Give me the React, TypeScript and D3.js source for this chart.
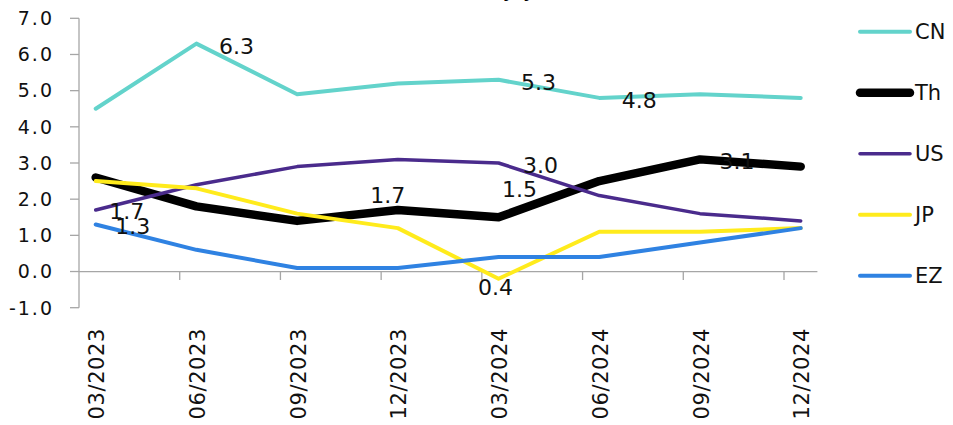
import { useEffect, useRef } from "react";
import * as d3 from "d3";

const W = 953;
const H = 425;

const quarters = ["03/2023", "06/2023", "09/2023", "12/2023", "03/2024", "06/2024", "09/2024", "12/2024"];
const seriesNames = ["CN", "Th", "US", "JP", "EZ"];
const cnValues = [4.5, 6.3, 4.9, 5.2, 5.3, 4.8, 4.9, 4.8];
const thValues = [2.6, 1.8, 1.4, 1.7, 1.5, 2.5, 3.1, 2.9];
const usValues = [1.7, 2.4, 2.9, 3.1, 3.0, 2.1, 1.6, 1.4];
const jpValues = [2.5, 2.3, 1.6, 1.2, -0.2, 1.1, 1.1, 1.2];
const ezValues = [1.3, 0.6, 0.1, 0.1, 0.4, 0.4, 0.8, 1.2];
const yTicks = [-1, 0, 1, 2, 3, 4, 5, 6, 7];

// data labels as they sit in the source chart (series, quarter index)
const dataLabels: { series: string; index: number; dx: number; dy: number }[] = [
  { series: "US", index: 0, dx: 31, dy: 1 },
  { series: "EZ", index: 0, dx: 37, dy: 2 },
  { series: "CN", index: 1, dx: 40, dy: 2 },
  { series: "Th", index: 3, dx: -10, dy: -15 },
  { series: "CN", index: 4, dx: 40, dy: 2 },
  { series: "CN", index: 5, dx: 40, dy: 2 },
  { series: "US", index: 4, dx: 42, dy: 2 },
  { series: "Th", index: 4, dx: 21, dy: -28 },
  { series: "EZ", index: 4, dx: -3, dy: 30 },
  { series: "Th", index: 6, dx: 37, dy: 2 },
];

const colors: Record<string, string> = {
  CN: "#63d3cb",
  Th: "#000000",
  US: "#4a2b8c",
  JP: "#ffeb1c",
  EZ: "#2f82e2",
};
const widths: Record<string, number> = { CN: 4, Th: 8.5, US: 3.5, JP: 4, EZ: 4 };

const FONT = "'DejaVu Sans', sans-serif";
// plain hyphen for negatives, as in the source
const fmt = (v: number) => d3.format(".1f")(v).replace("\u2212", "-");

export default function App() {
  const svgRef = useRef<SVGSVGElement>(null);

  useEffect(() => {
    document.body.style.margin = "0";
    if (!svgRef.current) return;
    const svg = d3.select(svgRef.current);
    svg.selectAll("*").remove();

    const values: Record<string, number[]> = {
      CN: cnValues,
      Th: thValues,
      US: usValues,
      JP: jpValues,
      EZ: ezValues,
    };

    const x = d3.scalePoint<string>().domain(quarters).range([95.7, 800.7]);
    const y = d3.scaleLinear().domain([-1, 7]).range([307.7, 18.3]);
    const tickOffset = 16.7;
    const axisColor = "#a6a6a6";

    // title (mostly outside the view, as in the source)
    svg
      .append("text")
      .attr("x", 488)
      .attr("y", -3.5)
      .attr("text-anchor", "middle")
      .attr("font-family", FONT)
      .attr("font-size", 22)
      .attr("fill", "#000")
      .text("GDP Growth (%y/y, Quarter)");

    // y axis
    const x0 = x(quarters[0])! - tickOffset;
    svg
      .append("line")
      .attr("x1", x0)
      .attr("x2", x0)
      .attr("y1", y(7))
      .attr("y2", y(-1))
      .attr("stroke", axisColor)
      .attr("stroke-width", 1.3);

    const yg = svg.append("g");
    yTicks.forEach((t) => {
      yg.append("line")
        .attr("x1", x0 - 9)
        .attr("x2", x0)
        .attr("y1", y(t))
        .attr("y2", y(t))
        .attr("stroke", axisColor)
        .attr("stroke-width", 1.3);
      yg.append("text")
        .attr("x", 54)
        .attr("y", y(t))
        .attr("dy", "0.36em")
        .attr("text-anchor", "end")
        .attr("font-family", FONT)
        .attr("font-size", 19)
        .attr("letter-spacing", 2)
        .attr("fill", "#111")
        .text(fmt(t));
    });

    // x axis at zero
    const xEnd = x(quarters[quarters.length - 1])! + tickOffset;
    svg
      .append("line")
      .attr("x1", x0)
      .attr("x2", xEnd)
      .attr("y1", y(0))
      .attr("y2", y(0))
      .attr("stroke", axisColor)
      .attr("stroke-width", 1.3);

    quarters.slice(1).forEach((q) => {
      const tx = x(q)! - tickOffset;
      svg
        .append("line")
        .attr("x1", tx)
        .attr("x2", tx)
        .attr("y1", y(0))
        .attr("y2", y(0) + 8.5)
        .attr("stroke", axisColor)
        .attr("stroke-width", 1.3);
    });

    quarters.forEach((q) => {
      const px = x(q)! + 1;
      svg
        .append("text")
        .attr("transform", `translate(${px},328) rotate(-90)`)
        .attr("text-anchor", "end")
        .attr("dy", "0.36em")
        .attr("font-family", FONT)
        .attr("font-size", 21)
        .attr("letter-spacing", 0.6)
        .attr("fill", "#111")
        .text(q);
    });

    // lines
    const line = d3
      .line<number>()
      .x((_, i) => x(quarters[i])!)
      .y((d) => y(d));

    seriesNames.forEach((name) => {
      svg
        .append("path")
        .datum(values[name])
        .attr("d", line)
        .attr("fill", "none")
        .attr("stroke", colors[name])
        .attr("stroke-width", widths[name])
        .attr("stroke-linejoin", "round")
        .attr("stroke-linecap", "round");
    });

    // data labels
    dataLabels.forEach((l) => {
      const v = values[l.series][l.index];
      svg
        .append("text")
        .attr("x", x(quarters[l.index])! + l.dx)
        .attr("y", y(v) + l.dy)
        .attr("dy", "0.36em")
        .attr("text-anchor", "middle")
        .attr("font-family", FONT)
        .attr("font-size", 22)
        .attr("fill", "#111")
        .text(fmt(v));
    });

    // legend
    const legend = svg.append("g");
    seriesNames.forEach((name, i) => {
      const ly = 31.7 + i * 61;
      legend
        .append("line")
        .attr("x1", 860)
        .attr("x2", 910)
        .attr("y1", ly)
        .attr("y2", ly)
        .attr("stroke", colors[name])
        .attr("stroke-width", widths[name])
        .attr("stroke-linecap", "round");
      legend
        .append("text")
        .attr("x", 915)
        .attr("y", ly)
        .attr("dy", "0.36em")
        .attr("font-family", FONT)
        .attr("font-size", 21)
        .attr("fill", "#111")
        .text(name);
    });
  }, []);

  return (
    <div>
      <svg ref={svgRef} width={W} height={H} viewBox={`0 0 ${W} ${H}`} style={{ display: "block" }} />
    </div>
  );
}
